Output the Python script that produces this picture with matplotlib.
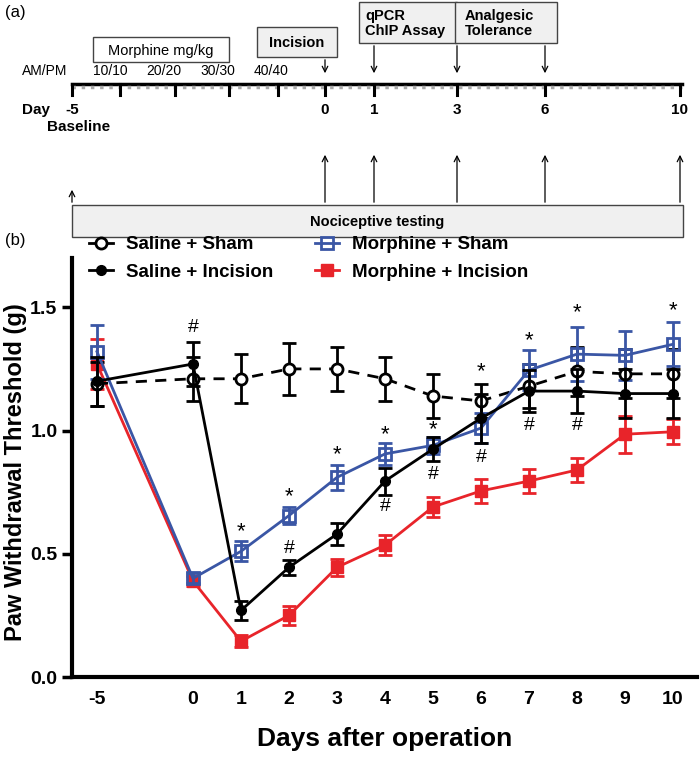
import numpy as np
import matplotlib
matplotlib.use("Agg")
import matplotlib.pyplot as plt
from matplotlib.lines import Line2D

plt.rcParams['font.family'] = ['Liberation Sans', 'DejaVu Sans']

# panel (b) data
day_labels = ['-5', '0', '1', '2', '3', '4', '5', '6', '7', '8', '9', '10']
day_pos = [-2, 0, 1, 2, 3, 4, 5, 6, 7, 8, 9, 10]

saline_sham = [1.19, 1.21, 1.21, 1.25, 1.25, 1.21, 1.14, 1.12, 1.18, 1.24, 1.23, 1.23]
saline_sham_err = [0.09, 0.09, 0.10, 0.105, 0.09, 0.09, 0.09, 0.07, 0.09, 0.10, 0.10, 0.10]
saline_inc = [1.20, 1.27, 0.27, 0.445, 0.58, 0.795, 0.925, 1.05, 1.16, 1.16, 1.15, 1.15]
saline_inc_err = [0.10, 0.09, 0.04, 0.03, 0.045, 0.055, 0.05, 0.10, 0.085, 0.09, 0.10, 0.10]
morph_sham = [1.32, 0.40, 0.51, 0.655, 0.81, 0.905, 0.94, 1.01, 1.245, 1.31, 1.305, 1.35]
morph_sham_err = [0.11, 0.02, 0.04, 0.035, 0.05, 0.045, 0.035, 0.06, 0.08, 0.11, 0.10, 0.09]
morph_inc = [1.27, 0.39, 0.145, 0.25, 0.445, 0.535, 0.69, 0.755, 0.795, 0.84, 0.985, 0.995]
morph_inc_err = [0.10, 0.02, 0.025, 0.04, 0.035, 0.04, 0.04, 0.05, 0.05, 0.05, 0.075, 0.05]

# significance marks (day position, symbol, y)
marks = [(0, '#', 1.42), (1, '*', 0.59), (2, '*', 0.73), (2, '#', 0.52), (3, '*', 0.90),
         (4, '*', 0.985), (4, '#', 0.69), (5, '*', 1.005), (5, '#', 0.82), (6, '*', 1.24),
         (6, '#', 0.89), (7, '*', 1.365), (7, '#', 1.02), (8, '*', 1.48), (8, '#', 1.02),
         (10, '*', 1.485)]

fig = plt.figure(figsize=(7, 7.59), dpi=100)

# ---------- panel (a): timeline
axa = fig.add_axes([0, 1 - 245 / 759, 1, 245 / 759])
axa.set_xlim(0, 700)
axa.set_ylim(245, 0)
axa.axis('off')

tl_x = [72, 120, 175, 229, 278, 325, 374, 457, 545, 680]
axa.plot([72, 682], [84, 84], color='black', lw=2.5)
axa.plot([72, 682], [87, 87], color='#aaaaaa', lw=2.5, ls=':')
for x in tl_x:
    axa.plot([x, x], [84, 95], color='black', lw=2.2)

axa.text(5, 12, '(a)', fontsize=12, va='center')
axa.text(5, 240, '(b)', fontsize=12, va='center')
axa.text(22, 71, 'AM/PM', fontsize=10, va='center')
for x, lab in zip([93, 146, 200, 254], ['10/10', '20/20', '30/30', '40/40']):
    axa.text(x, 71, lab, fontsize=10, va='center')

axa.text(22, 110, 'Day', fontsize=11, va='center', weight='bold')
tl_days = ['-5', '0', '1', '3', '6', '10']
tl_day_x = [72, 325, 374, 457, 545, 680]
for x, d in zip(tl_day_x, tl_days):
    axa.text(x, 110, d, fontsize=11, va='center', ha='center', weight='bold')
axa.text(47, 127, 'Baseline', fontsize=11, va='center', weight='bold')

# boxes
def box(x0, y0, x1, y1, txt, fc='#f0f0f0', ha='center', tx=None, wt='bold'):
    axa.add_patch(plt.Rectangle((x0, y0), x1 - x0, y1 - y0, facecolor=fc,
                                edgecolor='#444444', lw=1))
    axa.text(tx if tx else (x0 + x1) / 2, (y0 + y1) / 2 + 1, txt, ha=ha, va='center',
             fontsize=10.5, weight=wt, linespacing=1.1)

box(93, 37, 229, 62, 'Morphine mg/kg', fc='white', wt='normal')
box(257, 27, 337, 57, 'Incision')
box(359, 2, 457, 43, 'qPCR\nChIP Assay', ha='left', tx=365)
box(455, 2, 557, 43, 'Analgesic\nTolerance', ha='left', tx=465)
box(72, 205, 683, 237, 'Nociceptive testing')

arr = dict(arrowstyle='->', color='black', lw=0.9)
for x, y0 in zip([325, 374, 457, 545], [57, 43, 43, 43]):
    axa.annotate('', xy=(x, 76), xytext=(x, y0), arrowprops=arr)
for x in [325, 374, 457, 545, 680]:
    axa.annotate('', xy=(x, 152), xytext=(x, 205), arrowprops=arr)
axa.annotate('', xy=(72, 187), xytext=(72, 205), arrowprops=arr)

# ---------- panel (b)
ax = fig.add_axes([72 / 700, 82 / 759, 625 / 700, 419 / 759])
red, blue = '#e8242a', '#3a56a5'
eb = dict(capsize=5, capthick=2, elinewidth=2, lw=2)
ax.errorbar(day_pos, morph_inc, yerr=morph_inc_err, color=red, marker='s', ms=8,
            zorder=3, **eb)
ax.errorbar(day_pos, saline_sham, yerr=saline_sham_err, color='black', marker='o', ms=8,
            mfc='white', mew=2, ls=(0, (4, 3)), zorder=4, **eb)
ax.errorbar(day_pos, saline_inc, yerr=saline_inc_err, color='black', marker='o', ms=7,
            zorder=5, **eb)
ax.errorbar(day_pos, morph_sham, yerr=morph_sham_err, color=blue, marker='s', ms=8,
            mfc='none', mew=2, zorder=4, **eb)

for d, s, y in marks:
    ax.text(d, y, s, ha='center', va='center', fontsize=16 if s == '*' else 14)

ax.set_xlim(-2.52, 10.5)
ax.set_ylim(0, 1.7)
ax.set_xticks(day_pos)
ax.set_xticklabels(day_labels)
ax.set_yticks([0, 0.5, 1.0, 1.5])
ax.set_yticklabels(['0.0', '0.5', '1.0', '1.5'])
ax.tick_params(axis='x', length=0, pad=10, labelsize=14)
ax.tick_params(axis='y', length=7, width=2.5, labelsize=14)
for lab in ax.get_xticklabels() + ax.get_yticklabels():
    lab.set_fontweight('bold')
for sp in ['top', 'right']:
    ax.spines[sp].set_visible(False)
for sp in ['left', 'bottom']:
    ax.spines[sp].set_linewidth(3)
ax.set_xlabel('Days after operation', fontsize=19, weight='bold', labelpad=14)
ax.set_ylabel('Paw Withdrawal Threshold (g)', fontsize=17, weight='bold')
ax.yaxis.set_label_coords(-0.072, 0.49)

handles = [
    Line2D([], [], color='black', lw=2, marker='o', ms=8, mfc='white', mew=2),
    Line2D([], [], color='black', lw=2, marker='o', ms=7),
    Line2D([], [], color=blue, lw=2, marker='s', ms=8, mfc='none', mew=2),
    Line2D([], [], color=red, lw=2, marker='s', ms=8),
]
labels = ['Saline + Sham', 'Saline + Incision', 'Morphine + Sham', 'Morphine + Incision']
ax.legend(handles, labels, ncol=2, frameon=False,
          loc='lower left', bbox_to_anchor=(0.0, 0.905), prop=dict(size=13.5, weight='bold'),
          handlelength=1.3, handletextpad=0.7, columnspacing=2.2, labelspacing=0.55)

fig.savefig('out.png', dpi=100)
